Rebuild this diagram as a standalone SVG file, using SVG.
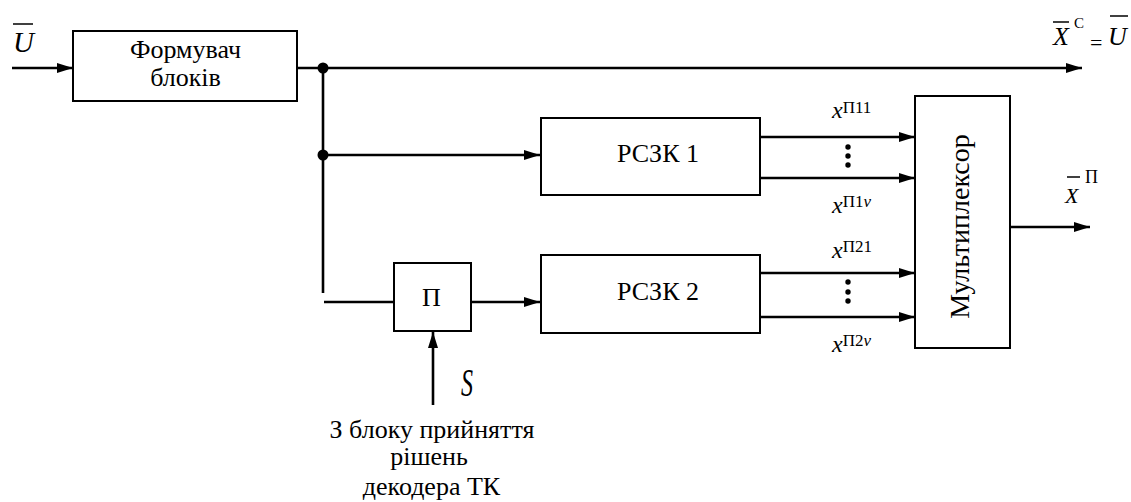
<svg xmlns="http://www.w3.org/2000/svg" width="1131" height="502" viewBox="0 0 1131 502" font-family="Liberation Serif, serif">
<style>
.box{fill:#fff;stroke:#000;stroke-width:2}
.ln{stroke:#000;stroke-width:2.6;fill:none}
.t{font-family:Liberation Serif,serif;font-size:26px;fill:#000}
.i{font-style:italic}
.sup{font-family:Liberation Serif,serif;font-size:17px;font-style:normal}
.ov{stroke:#000;stroke-width:1.5}
</style>
<defs>
<marker id="ah" markerWidth="16" markerHeight="10" refX="16" refY="5" orient="auto" markerUnits="userSpaceOnUse">
<path d="M0,0 L16,5 L0,10 Z" fill="#000"/>
</marker>
</defs>
<g id="connectors">
<line class="ln" x1="12" y1="68" x2="73" y2="68" marker-end="url(#ah)"/>
<line class="ln" x1="297" y1="68" x2="1082" y2="68" marker-end="url(#ah)"/>
<line class="ln" x1="323" y1="68" x2="323" y2="293"/>
<line class="ln" x1="323" y1="155" x2="540" y2="155" marker-end="url(#ah)"/>
<line class="ln" x1="324" y1="302" x2="394" y2="302"/>
<line class="ln" x1="471" y1="302" x2="540" y2="302" marker-end="url(#ah)"/>
<line class="ln" x1="433" y1="405" x2="433" y2="332" marker-end="url(#ah)"/>
<line class="ln" x1="760" y1="137" x2="915" y2="137" marker-end="url(#ah)"/>
<line class="ln" x1="760" y1="178" x2="915" y2="178" marker-end="url(#ah)"/>
<line class="ln" x1="760" y1="273" x2="915" y2="273" marker-end="url(#ah)"/>
<line class="ln" x1="760" y1="317" x2="915" y2="317" marker-end="url(#ah)"/>
<line class="ln" x1="1010" y1="227" x2="1090" y2="227" marker-end="url(#ah)"/>
<circle cx="323" cy="68" r="5.5"/>
<circle cx="323" cy="155" r="5.5"/>
<circle cx="848" cy="147" r="2.7"/>
<circle cx="848" cy="156" r="2.7"/>
<circle cx="848" cy="165" r="2.7"/>
<circle cx="848" cy="282" r="2.7"/>
<circle cx="848" cy="292" r="2.7"/>
<circle cx="848" cy="301" r="2.7"/>
</g>
<g id="former">
<rect class="box" x="73" y="31" width="224" height="70"/>
<text class="t" x="185.5" y="58" text-anchor="middle">Формувач</text>
<text class="t" x="185.5" y="86" text-anchor="middle">блоків</text>
</g>
<g id="rszk1">
<rect class="box" x="541" y="118" width="219" height="77"/>
<text class="t" x="658" y="162" text-anchor="middle">РСЗК 1</text>
</g>
<g id="rszk2">
<rect class="box" x="541" y="255" width="219" height="78"/>
<text class="t" x="658" y="300" text-anchor="middle">РСЗК 2</text>
</g>
<g id="perm">
<rect class="box" x="394" y="263" width="77" height="68"/>
<text class="t" x="431.5" y="306" text-anchor="middle">П</text>
</g>
<g id="mux">
<rect class="box" x="915" y="96" width="95" height="252"/>
<text class="t" transform="translate(969,226.5) rotate(-90)" text-anchor="middle" style="font-size:28px">Мультиплексор</text>
</g>
<g id="labels">
<text class="t i" x="13" y="52" style="font-size:29px">U</text>
<line class="ov" x1="13" y1="24" x2="33" y2="24"/>
<text class="t i" x="1053" y="45">X</text>
<line class="ov" x1="1053" y1="22" x2="1069" y2="22"/>
<text class="sup" x="1074" y="28" style="font-size:15px">C</text>
<text class="t" x="1090" y="50" style="font-size:22px">=</text>
<text class="t i" x="1108" y="45">U</text>
<line class="ov" x1="1110" y1="16" x2="1128" y2="16"/>
<text class="t i" x="1065" y="203" style="font-size:22px">X</text>
<line class="ov" x1="1067" y1="177" x2="1080" y2="177"/>
<text class="sup" x="1085" y="183" style="font-size:18px">П</text>
<text class="t i" transform="translate(461,396) scale(1,1.65)" x="0" y="0" style="font-size:24px">S</text>
<text class="t i" x="832" y="118" style="font-size:24px">x<tspan class="sup" dy="-5">П11</tspan></text>
<text class="t i" x="832" y="213" style="font-size:24px">x<tspan class="sup" dy="-6">П1<tspan style="font-style:italic">v</tspan></tspan></text>
<text class="t i" x="832" y="258" style="font-size:24px">x<tspan class="sup" dy="-6">П21</tspan></text>
<text class="t i" x="832" y="352" style="font-size:24px">x<tspan class="sup" dy="-6">П2<tspan style="font-style:italic">v</tspan></tspan></text>
<text class="t" x="432" y="438" text-anchor="middle">З блоку прийняття</text>
<text class="t" x="429" y="465" text-anchor="middle">рішень</text>
<text class="t" x="431.5" y="495" text-anchor="middle">декодера ТК</text>
</g>
</svg>
